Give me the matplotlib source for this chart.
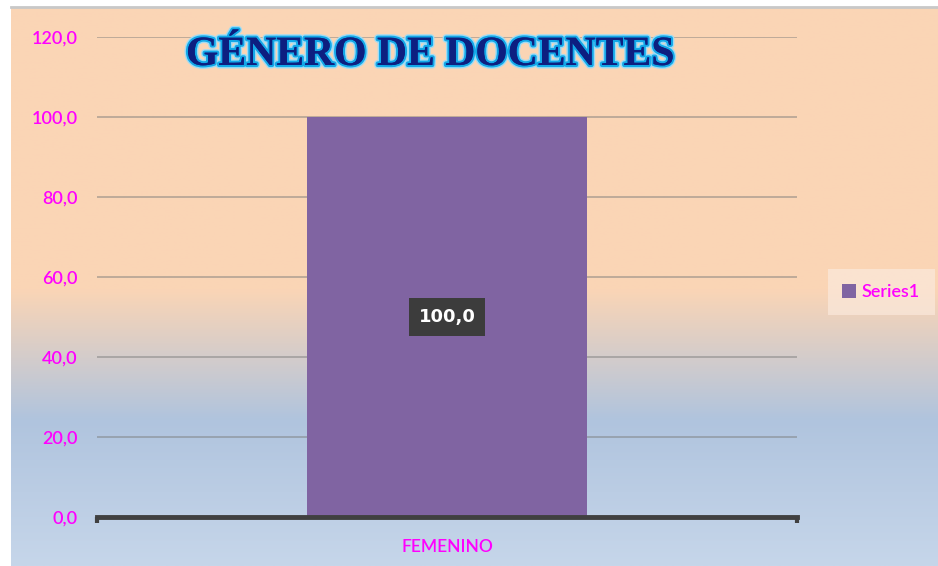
import numpy as np
import matplotlib
matplotlib.use("Agg")
import matplotlib.pyplot as plt
import matplotlib.patheffects as pe

# data
categories = ["FEMENINO"]
values = [100.0]
series_name = "Series1"
yticks = [0, 20, 40, 60, 80, 100, 120]
title = "GÉNERO DE DOCENTES"

W, H = 938, 566
MAGENTA = "#FF00FF"
PURPLE = "#8064A2"

def fx(px):
    return px / W

def fy(py):
    return 1 - py / H

fig = plt.figure(figsize=(W / 100, H / 100), dpi=100)
fig.patch.set_facecolor("white")

# background gradient (peach -> blue)
bg = fig.add_axes([fx(11), 0, fx(W - 11), fy(8)], zorder=-5)
rows = np.linspace(8, H, 400)
stops_y = [8, 290, 420, H]
stops_c = np.array([[251, 213, 181], [250, 213, 182], [176, 196, 222], [198, 214, 234]]) / 255
grad = np.stack([np.interp(rows, stops_y, stops_c[:, k]) for k in range(3)], axis=1)
grad = np.repeat(grad[:, None, :], 2, axis=1)
bg.imshow(grad, aspect="auto", extent=[0, 1, 0, 1])
bg.axis("off")
fig.add_artist(plt.Line2D([fx(11), 1], [fy(7), fy(7)], color="#c8c8c8", lw=2))

ax = fig.add_axes([fx(97), fy(517), fx(797 - 97), fy(37) - fy(517)])
ax.set_facecolor("none")
x = np.arange(len(categories))

bars = ax.bar(x, values, width=0.4, color=PURPLE, zorder=2, label=series_name)

ax.set_xlim(-0.5, len(categories) - 0.5)
ax.set_ylim(0, 120)
ax.set_yticks(yticks)
ax.set_yticklabels([f"{t:.1f}".replace(".", ",") for t in yticks],
                   color=MAGENTA, fontsize=13, family="Lato", fontweight="semibold")
ax.yaxis.grid(True, color="#7a7a7a", alpha=0.55, lw=1.2, zorder=0)
ax.set_axisbelow(True)
ax.tick_params(axis="y", length=0, pad=14)

ax.set_xticks(x)
ax.set_xticklabels(categories, color=MAGENTA, fontsize=12.5, family="Lato", fontweight="semibold")
ax.set_xticks(np.arange(len(categories) + 1) - 0.5, minor=True)
ax.tick_params(axis="x", which="major", length=0, pad=16)
ax.tick_params(axis="x", which="minor", length=4, width=3, color="#404040")

for s in ["top", "right", "left"]:
    ax.spines[s].set_visible(False)
ax.spines["bottom"].set_color("#404040")
ax.spines["bottom"].set_linewidth(3.5)

# data labels
for i, v in enumerate(values):
    ax.text(x[i], v / 2, f"{v:.1f}".replace(".", ","), ha="center", va="center",
            color="white", fontsize=13, fontweight="bold", family="DejaVu Sans", zorder=5,
            bbox=dict(boxstyle="square,pad=0.55", fc="#3c3c3c", ec="none"))

# title
fig.text(fx(430), fy(55), title, ha="center", va="center", fontsize=30,
         fontweight="bold", family="Liberation Serif", color="#0d1f80",
         path_effects=[pe.withStroke(linewidth=5, foreground="#9fdcf5"),
                       pe.withStroke(linewidth=3, foreground="#12a8e8"),
                       pe.Normal()])

# legend
leg = fig.legend(handles=[bars], labels=[series_name], loc="center",
                 bbox_to_anchor=(fx(881), fy(292)), frameon=True, fancybox=False,
                 handlelength=0.8, handleheight=0.8, handletextpad=0.3,
                 borderpad=0.8, prop={"family": "Lato", "size": 13, "weight": "semibold"})
leg.get_frame().set_facecolor("#fbe9dc")
leg.get_frame().set_alpha(0.7)
leg.get_frame().set_edgecolor("none")
for t in leg.get_texts():
    t.set_color(MAGENTA)

fig.savefig("out.png", dpi=100)
